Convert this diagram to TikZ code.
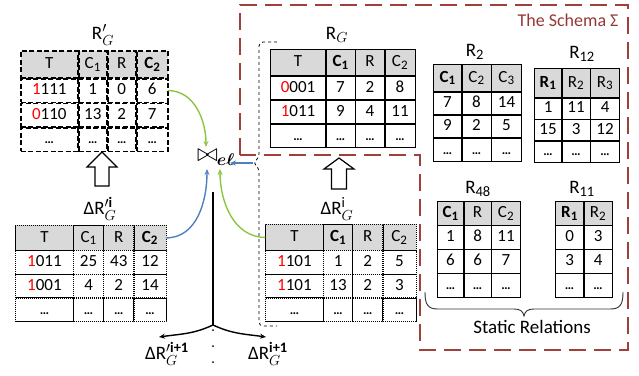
\RequirePackage{fix-cm}
\documentclass[tikz,border=0pt]{standalone}
\usepackage{amsmath}
\usepackage{graphicx}
\usepackage{fontspec}
\setmainfont{Carlito}
\usetikzlibrary{matrix,arrows.meta}
\DeclareMathSizes{19}{19}{14.5}{11}
\DeclareMathSizes{17}{17}{13}{10}
\definecolor{hdr}{HTML}{D9D9D9}
\definecolor{schema}{RGB}{160,64,58}
\definecolor{schematext}{RGB}{150,55,53}
\definecolor{lgreen}{RGB}{140,198,63}
\definecolor{lblue}{RGB}{79,129,189}
\newcommand\tabfont{\fontsize{17}{20}\selectfont}
\newcommand\ttlfont{\fontsize{19}{22}\selectfont}
\newcommand\mydots{{\fontsize{13}{14}\selectfont\bfseries …}}
\newcommand\redd[1]{\textcolor{red}{#1}}
\newcommand\Cs[1]{C\textsubscript{#1}}
\newcommand\Rs[1]{R\textsubscript{#1}}
\tikzset{
  tbl/.style={matrix of nodes, inner sep=0pt, outer sep=0pt,
    column sep=-0.6pt, row sep=-0.6pt, anchor=north west,
    nodes={draw, anchor=center, inner sep=0pt, outer sep=0pt,
      text height=11.5pt, text depth=3pt, font=\tabfont, minimum height=23.5pt},
    row 1/.style={nodes={fill=hdr}}},
  solidtbl/.style={tbl, nodes={line width=1.1pt}},
  dashtbl/.style={tbl, nodes={line width=1.6pt, dash pattern=on 5pt off 2.5pt}},
  dottbl/.style={tbl, nodes={line width=0.8pt, dash pattern=on 1.2pt off 0.8pt}},
  ttl/.style={font=\ttlfont, inner sep=1pt},
  conn/.style={line width=1.4pt, -{Stealth[length=6pt,width=5pt]}},
  hollow/.style={draw, fill=white, line width=1.2pt, line join=miter},
}
\begin{document}
\begin{tikzpicture}[x=1pt,y=-1pt]
\useasboundingbox (0,0) rectangle (639,375);

% schema border
\draw[schema, line width=2.5pt, dash pattern=on 17pt off 8pt]
  (240,155) -- (240,5) -- (628,5) -- (628,350) -- (420,350) -- (420,155) -- cycle;
\node[anchor=east, text=schematext, font=\fontsize{18}{20}\selectfont] (schemalbl) at (622,20) {The Schema Σ};

% R'_G
\node[ttl] (trpg) at (103,35) {R$'_{G}$};
\matrix[dashtbl,
  row 1/.append style={nodes={minimum height=27pt}},
  column 1/.style={nodes={minimum width=57pt}},
  column 2/.style={nodes={minimum width=28pt}},
  column 3/.style={nodes={minimum width=28pt}},
  column 4/.style={nodes={minimum width=31pt}}] (rpg) at (20,50) {
  T & \Cs{1} & R & \textbf{\Cs{2}} \\
  \redd{1}111 & 1 & 0 & 6 \\
  \redd{0}110 & 13 & 2 & 7 \\
  \mydots & \mydots & \mydots & \mydots \\
};

% Delta R'^i_G
\node[ttl] (tdrpg) at (100,209) {ΔR$^{\prime\text{\textbf{i}}}_{G}$};
\matrix[dottbl,
  row 1/.append style={nodes={minimum height=25pt}},
  column 1/.style={nodes={minimum width=58pt}},
  column 2/.style={nodes={minimum width=30pt}},
  column 3/.style={nodes={minimum width=30pt}},
  column 4/.style={nodes={minimum width=32pt}}] (drpg) at (15,225) {
  T & \Cs{1} & R & \textbf{\Cs{2}} \\
  \redd{1}011 & 25 & 43 & 12 \\
  \redd{1}001 & 4 & 2 & 14 \\
  \mydots & \mydots & \mydots & \mydots \\
};

% R_G
\node[ttl] (trg) at (337,35) {R$_{G}$};
\matrix[solidtbl,
  row 1/.append style={nodes={minimum height=26pt}},
  column 1/.style={nodes={minimum width=55pt}},
  column 2/.style={nodes={minimum width=29pt}},
  column 3/.style={nodes={minimum width=29pt}},
  column 4/.style={nodes={minimum width=30pt}}] (rg) at (270,49) {
  T & \textbf{\Cs{1}} & R & \Cs{2} \\
  \redd{0}001 & 7 & 2 & 8 \\
  \redd{1}011 & 9 & 4 & 11 \\
  \mydots & \mydots & \mydots & \mydots \\
};

% Delta R^i_G
\node[ttl] (tdrg) at (337,209) {ΔR$^{\text{i}}_{G}$};
\matrix[dottbl,
  row 1/.append style={nodes={minimum height=26pt}},
  column 1/.style={nodes={minimum width=58pt}},
  column 2/.style={nodes={minimum width=29pt}},
  column 3/.style={nodes={minimum width=30pt}},
  column 4/.style={nodes={minimum width=33pt}}] (drg) at (265,224) {
  T & \textbf{\Cs{1}} & R & \Cs{2} \\
  \redd{1}101 & 1 & 2 & 5 \\
  \redd{1}101 & 13 & 2 & 3 \\
  \mydots & \mydots & \mydots & \mydots \\
};

% R2
\node[ttl] (tr2) at (475,52) {\Rs{2}};
\matrix[solidtbl,
  row 1/.append style={nodes={minimum height=27pt}},
  nodes={minimum height=22.7pt},
  column 1/.style={nodes={minimum width=28pt}},
  column 2/.style={nodes={minimum width=29pt}},
  column 3/.style={nodes={minimum width=30pt}}] (r2) at (433,64) {
  \textbf{\Cs{1}} & \Cs{2} & \Cs{3} \\
  7 & 8 & 14 \\
  9 & 2 & 5 \\
  \mydots & \mydots & \mydots \\
};

% R12
\node[ttl] (tr12) at (582,54) {\Rs{12}};
\matrix[solidtbl,
  row 1/.append style={nodes={minimum height=29pt}},
  nodes={minimum height=21pt},
  column 1/.style={nodes={minimum width=27pt}},
  column 2/.style={nodes={minimum width=28pt}},
  column 3/.style={nodes={minimum width=29pt}}] (r12) at (534,68) {
  \textbf{\Rs{1}} & \Rs{2} & \Rs{3} \\
  1 & 11 & 4 \\
  15 & 3 & 12 \\
  \mydots & \mydots & \mydots \\
};

% R48
\node[ttl] (tr48) at (478,189) {\Rs{48}};
\matrix[solidtbl,
  column 1/.style={nodes={minimum width=26pt}},
  column 2/.style={nodes={minimum width=27pt}},
  column 3/.style={nodes={minimum width=29pt}}] (r48) at (437,201) {
  \textbf{\Cs{1}} & R & \Cs{2} \\
  1 & 8 & 11 \\
  6 & 6 & 7 \\
  \mydots & \mydots & \mydots \\
};

% R11
\node[ttl] (tr11) at (582,189) {\Rs{11}};
\matrix[solidtbl,
  column 1/.style={nodes={minimum width=28pt}},
  column 2/.style={nodes={minimum width=28pt}}] (r11) at (555,201) {
  \textbf{\Rs{1}} & \Rs{2} \\
  0 & 3 \\
  3 & 4 \\
  \mydots & \mydots \\
};

% static relations brace
\draw[line width=0.9pt, black!80]
  (425,292) .. controls (425,305) and (428,309) .. (438,309) -- (514,309)
  .. controls (520,309) and (523,311) .. (524,316)
  .. controls (525,311) and (528,309) .. (534,309) -- (610,309)
  .. controls (620,309) and (623,305) .. (623,292);
\node[font=\fontsize{19}{22}\selectfont] (static) at (532,327) {Static Relations};

% hollow arrows
\draw[hollow] (102,152) -- (117,167) -- (109,167) -- (109,186) -- (95,186) -- (95,167) -- (87,167) -- cycle;
\draw[hollow] (339,158) -- (354,169) -- (346.5,169) -- (346.5,189) -- (331.5,189) -- (331.5,169) -- (324,169) -- cycle;

% dashed bracket
\coordinate (btip) at (253,163);
\draw[dashed, line width=0.8pt, rounded corners=4pt]
  (277,42) -- (259,42) -- (259,158) -- (btip) -- (259,168) -- (259,326) -- (277,326);

% join
\node[anchor=base west, inner sep=0pt, font=\fontsize{17}{18}\selectfont] (join) at (197,160)
  {\raisebox{-1pt}{\scalebox{1.5}{$\bowtie$}}\kern-1pt\raisebox{-5pt}{$\boldsymbol{e\ell}$}};
\coordinate (jT) at (206,147);
\coordinate (jBL) at (207,169);
\coordinate (jBR) at (220,169);
\coordinate (jR) at (230,163);

\draw[conn, lgreen] (rpg-2-4.east) to[out=0,in=90] (jT);
\draw[conn, lblue] (drpg-1-4.east) to[out=0,in=-90] (jBL);
\draw[conn, lgreen] (drg-1-1.west) to[out=180,in=-90] (jBR);
\draw[conn, lblue] (btip) -- (jR);

% output branch
\coordinate (stem) at (213,192);
\coordinate (fork) at (213,325);
\coordinate (endL) at (159,337);
\coordinate (endR) at (266,337);
\draw[line width=1.4pt] (stem) -- (fork);
\draw[conn, black] (fork) to[out=-155,in=8] (endL);
\draw[conn, black] (fork) to[out=-25,in=172] (endR);
\fill (213,330) circle (1pt) (213,346) circle (1pt) (213,362) circle (1pt);

\node[ttl] (lblL) at (167,354) {ΔR$^{\prime\text{\textbf{i+1}}}_{G}$};
\node[ttl] (lblR) at (268,354) {ΔR$^{\text{\textbf{i+1}}}_{G}$};
\end{tikzpicture}
\end{document}
